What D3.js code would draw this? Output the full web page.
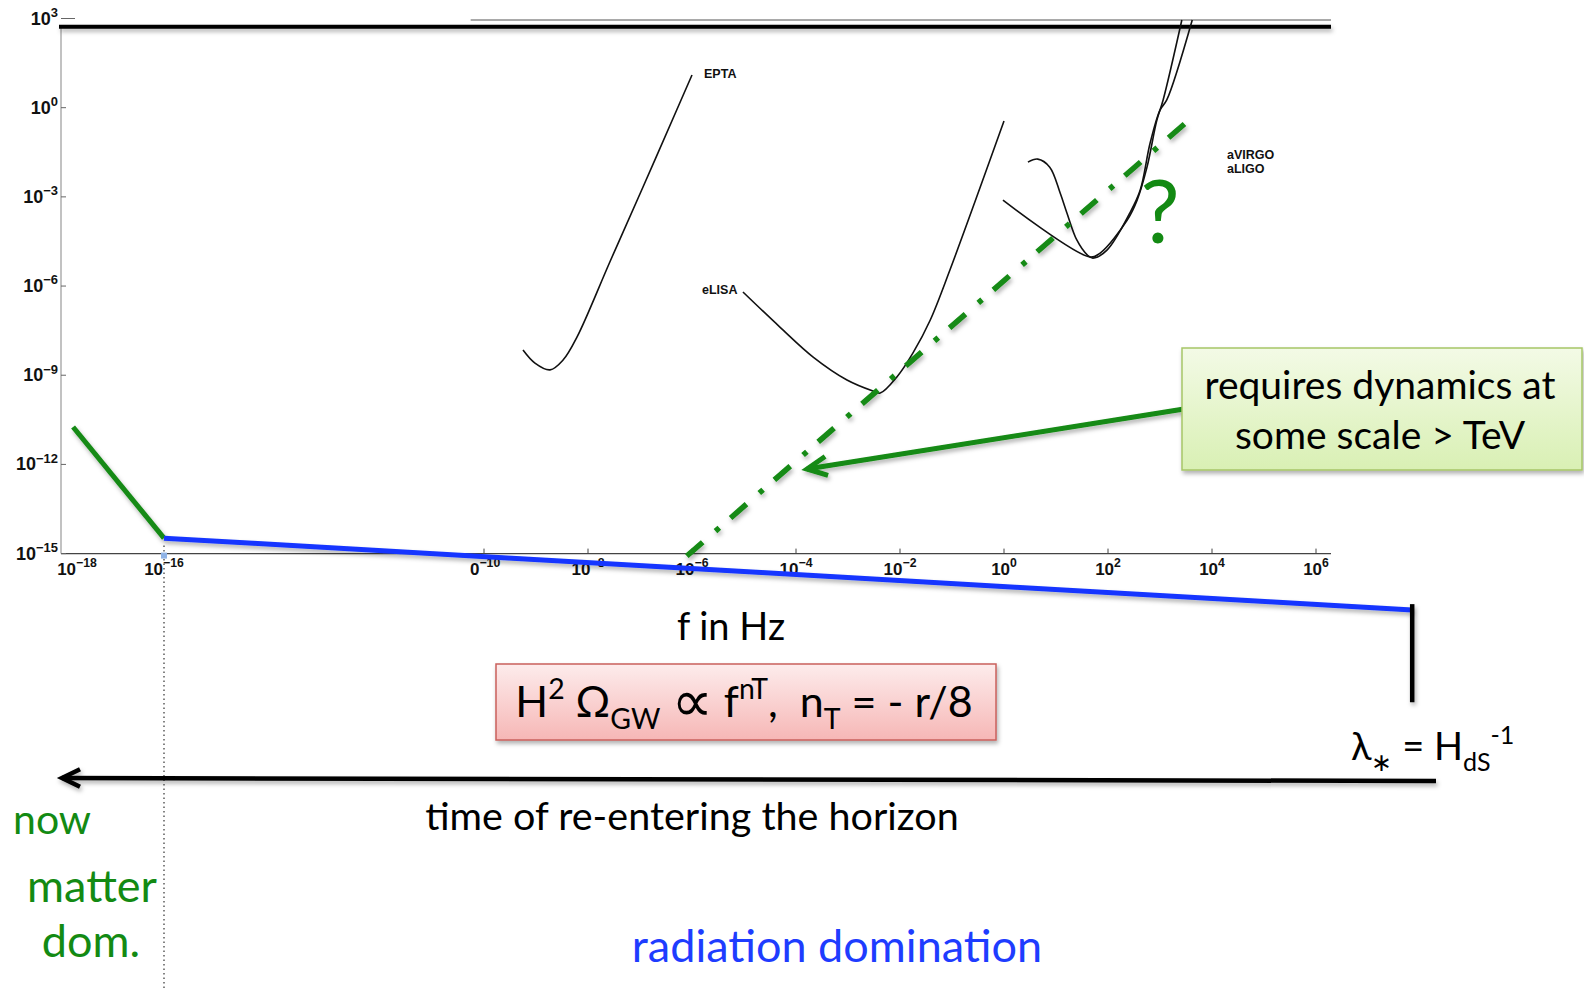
<!DOCTYPE html>
<html><head><meta charset="utf-8">
<script src="https://cdn.jsdelivr.net/npm/d3@7/dist/d3.min.js"></script>
<style>html,body{margin:0;padding:0;background:#fff;overflow:hidden}</style>
</head><body>
<svg id="c" width="1584" height="989"></svg>
<script>
// ---------- data (log10 values) ----------
const xTickExps = [-18, -16, -10, -8, -6, -4, -2, 0, 2, 4, 6];
const yTickExps = [3, 0, -3, -6, -9, -12, -15];

const eptaLogF     = [-9.25, -9.02, -8.73, -8.48, -8.21, -7.58, -6.94, -6.29, -6.00];
const eptaLogOmega = [-8.15, -8.59, -8.82, -8.49, -7.71, -5.19, -2.66, -0.06, 1.10];

const elisaLogF     = [-5.02, -4.31, -3.67, -3.02, -2.52, -2.38, -2.06, -1.75, -1.42, -1.04, 0.00];
const elisaLogOmega = [-6.20, -7.38, -8.39, -9.16, -9.53, -9.60, -9.06, -8.25, -7.15, -5.46, -0.45];

const avirgoLogF     = [-0.02, 1.65, 1.85, 2.37, 2.56, 2.75, 2.94, 3.06, 3.42];
const avirgoLogOmega = [-3.11, -5.02, -4.89, -3.78, -3.11, -2.00, -0.42, 0.26, 2.95];

const aligoLogF     = [0.46, 0.65, 0.88, 1.08, 1.21, 1.40, 1.60, 1.71, 1.98, 2.42, 2.62, 2.81, 3.00, 3.13, 3.62];
const aligoLogOmega = [-1.83, -1.73, -2.00, -2.87, -3.54, -4.45, -4.95, -5.06, -4.79, -3.54, -2.77, -1.19, -0.08, 0.26, 2.95];

const matterLogF = [-18.09, -16.0];
const matterLogOmega = [-10.74, -14.48];
const radiationLogF = [-16.0, 7.85];
const radiationLogOmega = [-14.48, -16.90];
const blueTiltLogF = [-6.10, 3.58];
const blueTiltLogOmega = [-15.08, -0.38];
const lambdaStarLogF = 7.85;
const lambdaStarLogOmega = [-16.70, -20.0];
const upperBoundLogOmega = 2.72;     // thick horizontal bound line
const upperThinLogOmega = 2.95;
const upperThinLogFStart = -10.25;

// ---------- scales ----------
const P = v => Math.pow(10, v);
const x = d3.scaleLog().domain([1e-18, 1e-16, 1e-10, 1e6]).range([77, 164, 484, 1316]);
const y = d3.scaleLog().domain([1e-15, 1e3]).range([553.6, 18.5]);

const svg = d3.select('#c');
const defs = svg.append('defs');
const sh = defs.append('filter').attr('id','sh').attr('filterUnits','userSpaceOnUse')
  .attr('x',0).attr('y',0).attr('width',1584).attr('height',989);
sh.append('feDropShadow').attr('dx',1.5).attr('dy',3).attr('stdDeviation',2).attr('flood-color','#000').attr('flood-opacity',0.3);

function grad(id, c1, c2){
  const g = defs.append('linearGradient').attr('id',id).attr('x1',0).attr('y1',0).attr('x2',0).attr('y2',1);
  g.append('stop').attr('offset','0%').attr('stop-color',c1);
  g.append('stop').attr('offset','100%').attr('stop-color',c2);
}
grad('gGreen', '#f3faE6', '#d9f0b4');
grad('gPink', '#fdecec', '#f6b7b6');

const GREEN = '#138a13', BLUE = '#1436ff';
const tickFont = '"Liberation Sans", Arial, sans-serif';
const slideFont = 'Lato, "Open Sans", sans-serif';

function rich(sel, parts, size){
  let off = 0;
  parts.forEach(p => {
    const target = p.s === 'sup' ? -size*0.42 : p.s === 'sub' ? size*0.28 : (p.d || 0);
    const ts = sel.append('tspan').text(p.t).attr('dy', target - off);
    if (p.s) ts.attr('font-size', size*(p.k || 0.66));
    if (p.f) ts.attr('font-family', p.f);
    if (p.z) ts.attr('font-size', p.z);
    off = target;
  });
}

// ---------- axes ----------
const xAxisY = y(1e-15);
svg.append('line').attr('x1',61).attr('x2',1331).attr('y1',xAxisY).attr('y2',xAxisY).attr('stroke','#444').attr('stroke-width',1.3);
svg.append('line').attr('x1',61).attr('x2',61).attr('y1',y(P(upperBoundLogOmega))).attr('y2',xAxisY).attr('stroke','#999').attr('stroke-width',1.2);

xTickExps.filter(e => e >= -10).forEach(e => {
  svg.append('line').attr('x1',x(P(e))).attr('x2',x(P(e))).attr('y1',xAxisY).attr('y2',xAxisY-5).attr('stroke','#444');
});
yTickExps.forEach(e => {
  svg.append('line').attr('x1',61).attr('x2', e===3 ? 75 : 66).attr('y1',y(P(e))).attr('y2',y(P(e))).attr('stroke','#666');
  const t = svg.append('text').attr('x',58).attr('y',y(P(e))+6).attr('text-anchor','end')
    .attr('font-family',tickFont).attr('font-weight','bold').attr('font-size',18).attr('fill','#111');
  rich(t, [{t:'10'},{t: e<0 ? '\u2212'+(-e) : ''+e, s:'sup', k:0.72}], 18);
});
xTickExps.forEach(e => {
  const isCut = e === -10;
  const t = svg.append('text').attr('x', isCut ? x(P(e))-14 : x(P(e))).attr('y', xAxisY+21)
    .attr('text-anchor', isCut ? 'start' : 'middle')
    .attr('font-family',tickFont).attr('font-weight','bold').attr('font-size',17).attr('fill','#111');
  rich(t, [{t: isCut ? '0' : '10'},{t: e<0 ? '\u2212'+(-e) : ''+e, s:'sup', k:0.72}], 17);
});

// ---------- top bound lines ----------
svg.append('line').attr('x1', x(P(upperThinLogFStart))).attr('x2',1331).attr('y1',y(P(upperThinLogOmega))).attr('y2',y(P(upperThinLogOmega))).attr('stroke','#555').attr('stroke-width',1.2);
svg.append('line').attr('x1',59).attr('x2',1331).attr('y1',y(P(upperBoundLogOmega))).attr('y2',y(P(upperBoundLogOmega))).attr('stroke','#000').attr('stroke-width',4).attr('filter','url(#sh)');

// ---------- detector curves ----------
const curve = d3.line().x(d => x(P(d[0]))).y(d => y(P(d[1]))).curve(d3.curveCatmullRom.alpha(0.5));
function detector(fs, os){
  svg.append('path').datum(fs.map((f,i)=>[f, os[i]])).attr('d', curve)
    .attr('fill','none').attr('stroke','#111').attr('stroke-width',1.6);
}
detector(eptaLogF, eptaLogOmega);
detector(elisaLogF, elisaLogOmega);
detector(avirgoLogF, avirgoLogOmega);
detector(aligoLogF, aligoLogOmega);

const lbl = (txt, xx, yy) => svg.append('text').attr('x',xx).attr('y',yy).text(txt)
  .attr('font-family',tickFont).attr('font-weight','bold').attr('font-size',12.5).attr('fill','#111');
lbl('EPTA', 704, 78);
lbl('eLISA', 702, 294);
lbl('aVIRGO', 1227, 159);
lbl('aLIGO', 1227, 173);

// ---------- spectra ----------
const straight = d3.line().x(d => x(P(d[0]))).y(d => y(P(d[1])));
svg.append('path').datum(matterLogF.map((f,i)=>[f, matterLogOmega[i]])).attr('d', straight)
  .attr('stroke',GREEN).attr('stroke-width',5).attr('fill','none').attr('filter','url(#sh)');
svg.append('path').datum(blueTiltLogF.map((f,i)=>[f, blueTiltLogOmega[i]])).attr('d', straight)
  .attr('stroke',GREEN).attr('stroke-width',5.5).attr('fill','none').attr('stroke-dasharray','21,17,5,15').attr('filter','url(#sh)');

// dotted vertical at matter-radiation equality
svg.append('line').attr('x1',x(1e-16)).attr('x2',x(1e-16)).attr('y1',xAxisY-8).attr('y2',989)
  .attr('stroke','#333').attr('stroke-width',1.2).attr('stroke-dasharray','1.5,3');
svg.append('rect').attr('x',x(1e-16)-3).attr('y',xAxisY-1).attr('width',6).attr('height',6).attr('fill','#8fb3e6');

svg.append('path').datum(radiationLogF.map((f,i)=>[f, radiationLogOmega[i]])).attr('d', straight)
  .attr('stroke',BLUE).attr('stroke-width',5).attr('fill','none').attr('filter','url(#sh)');

// lambda* bar
svg.append('line').attr('x1',x(P(lambdaStarLogF))).attr('x2',x(P(lambdaStarLogF)))
  .attr('y1',y(P(lambdaStarLogOmega[0]))).attr('y2',y(P(lambdaStarLogOmega[1])))
  .attr('stroke','#000').attr('stroke-width',4.5).attr('filter','url(#sh)');

// question mark
svg.append('text').attr('x',1160).attr('y',243).attr('text-anchor','middle').text('?')
  .attr('font-family',slideFont).attr('font-size',88).attr('fill',GREEN);

// ---------- green annotation ----------
function arrow(x1,y1,x2,y2,color,w,head){
  const g = svg.append('g').attr('filter','url(#sh)');
  g.append('line').attr('x1',x1).attr('y1',y1).attr('x2',x2).attr('y2',y2).attr('stroke',color).attr('stroke-width',w);
  const a = Math.atan2(y2-y1, x2-x1);
  const p = s => [x2 - head*Math.cos(a + s*0.45), y2 - head*Math.sin(a + s*0.45)];
  const p1 = p(1), p2 = p(-1);
  g.append('path').attr('d',`M${p1[0]},${p1[1]}L${x2},${y2}L${p2[0]},${p2[1]}`)
    .attr('fill','none').attr('stroke',color).attr('stroke-width',w).attr('stroke-linejoin','miter');
}
arrow(1184, 409, 807, 469, GREEN, 5, 22);

svg.append('rect').attr('x',1182).attr('y',348).attr('width',400).attr('height',122)
  .attr('fill','url(#gGreen)').attr('stroke','#a6c667').attr('stroke-width',1.5).attr('filter','url(#sh)');
svg.append('text').attr('x',1380).attr('y',399).attr('text-anchor','middle').text('requires dynamics at')
  .attr('font-family',slideFont).attr('font-size',39).attr('fill','#000');
svg.append('text').attr('x',1380).attr('y',449).attr('text-anchor','middle').text('some scale > TeV')
  .attr('font-family',slideFont).attr('font-size',39).attr('fill','#000');

// ---------- axis title & formula ----------
svg.append('text').attr('x',731).attr('y',640).attr('text-anchor','middle').text('f in Hz')
  .attr('font-family',slideFont).attr('font-size',38).attr('fill','#000');

svg.append('rect').attr('x',496).attr('y',664).attr('width',500).attr('height',76)
  .attr('fill','url(#gPink)').attr('stroke','#c9605c').attr('stroke-width',1.5).attr('filter','url(#sh)');
const ft = svg.append('text').attr('x',744).attr('y',717).attr('text-anchor','middle')
  .attr('font-family',slideFont).attr('font-size',43).attr('fill','#000').attr('xml:space','preserve');
rich(ft, [{t:'H'},{t:'2',s:'sup'},{t:' \u03A9'},{t:'GW',s:'sub'},{t:'\u00A0'},{t:'\u221D',f:'"DejaVu Sans"',z:58,d:4},{t:'\u00A0f'},{t:'nT',s:'sup'},{t:',\u00A0 n'},{t:'T',s:'sub'},{t:' = - r/8'}], 43);

// ---------- time arrow ----------
arrow(1436, 781, 62, 778, '#000', 4.5, 20);
const lt = svg.append('text').attr('x',1351).attr('y',760)
  .attr('font-family',slideFont).attr('font-size',38).attr('fill','#000');
rich(lt, [{t:'\u03BB'},{t:'\u2217',s:'sub'},{t:' = H'},{t:'dS',s:'sub'},{t:'-1',s:'sup'}], 38);

svg.append('text').attr('x',692).attr('y',830).attr('text-anchor','middle').text('time of re-entering the horizon')
  .attr('font-family',slideFont).attr('font-size',39.5).attr('fill','#000');

svg.append('text').attr('x',13).attr('y',834).text('now').attr('font-family',slideFont).attr('font-size',41).attr('fill',GREEN);
svg.append('text').attr('x',92).attr('y',902).attr('text-anchor','middle').text('matter').attr('font-family',slideFont).attr('font-size',45).attr('fill',GREEN);
svg.append('text').attr('x',91).attr('y',957).attr('text-anchor','middle').text('dom.').attr('font-family',slideFont).attr('font-size',45).attr('fill',GREEN);
svg.append('text').attr('x',837).attr('y',962).attr('text-anchor','middle').text('radiation domination').attr('font-family',slideFont).attr('font-size',45).attr('fill','#1e3cff');
</script>
</body></html>
